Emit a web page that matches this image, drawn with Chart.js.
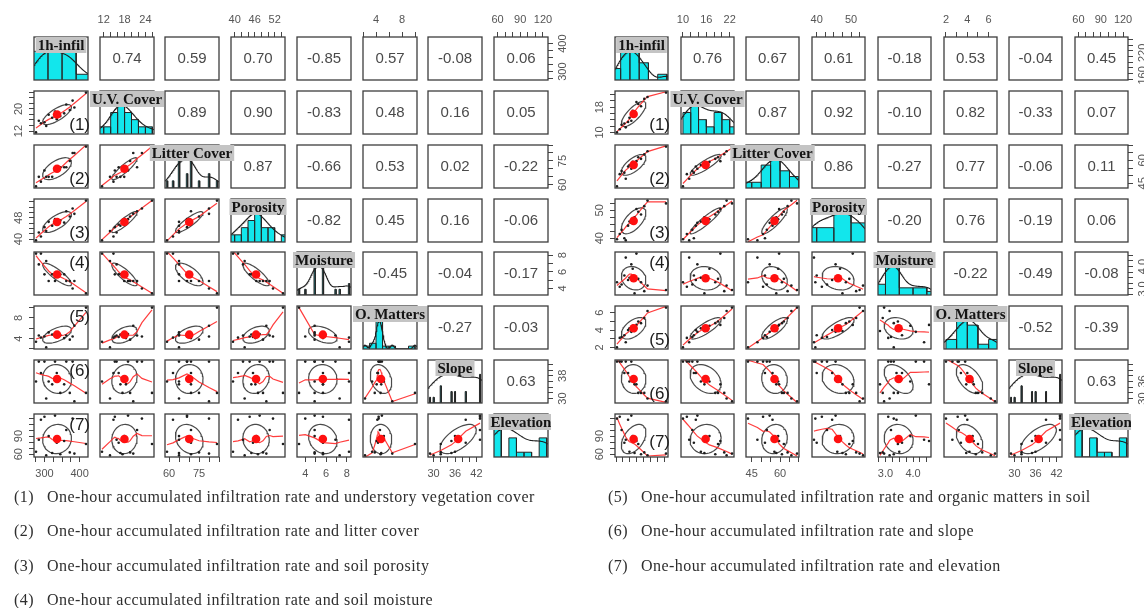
<!DOCTYPE html>
<html>
<head>
<meta charset="utf-8">
<script src="https://cdn.jsdelivr.net/npm/chart.js@4.4.1/dist/chart.umd.min.js"></script>
<style>
html,body{margin:0;padding:0;background:#fff}
body{position:relative;width:1144px;height:608px;overflow:hidden}
canvas{position:absolute}
.note{position:absolute;font-family:"Liberation Serif","Times New Roman",serif;font-size:16px;letter-spacing:0.45px;line-height:16px;color:#2e2e2e;white-space:nowrap;z-index:5}
</style>
</head>
<body>
<script>
const VAR_NAMES = ["1h-infil", "U.V. Cover", "Litter Cover", "Porosity", "Moisture", "O. Matters", "Slope", "Elevation"];

// ---- Site group A (left matrix): one value per plot ----
const infA   = [276, 290, 305, 284, 300, 322, 335, 312, 345, 330, 356, 372, 362, 385, 380, 418];
const uvA    = [11.5, 14.8, 13.8, 15.7, 15.2, 16.8, 16.3, 17.9, 17.4, 19.0, 18.4, 19.6, 21.6, 20.5, 23.0, 25.9];
const litA   = [59, 62, 65, 65, 69, 65, 71, 65, 71, 69, 71, 75, 71, 80, 80, 84];
const porA   = [39.5, 41.0, 43.0, 42.5, 44.5, 45.0, 45.5, 46.5, 47.0, 47.5, 46.2, 48.5, 50.5, 49.5, 51.5, 54.5];
const moiA   = [8.2, 8.2, 7.3, 6.9, 5.7, 5.7, 5.7, 4.9, 5.7, 4.9, 5.7, 4.9, 4.9, 4.9, 4.0, 3.4];
const omA    = [3.4, 4.2, 2.3, 4.6, 4.4, 4.8, 4.3, 5.2, 4.7, 4.9, 4.1, 3.8, 4.6, 6.5, 4.4, 10.0];
const slopeA = [36, 39, 30, 43, 43, 35, 39, 36, 32, 43, 35, 32, 43, 29, 43, 32];
const elevA  = [64, 117, 58, 84, 122, 62, 79, 90, 60, 124, 82, 63, 100, 61, 119, 77];

// ---- Site group B (right matrix) ----
const infB   = [152, 171, 158, 168, 162, 183, 176, 179, 190, 186, 204, 194, 198, 211, 218, 258];
const uvB    = [10.0, 11.6, 11.0, 12.8, 12.4, 13.7, 13.3, 14.6, 15.5, 16.8, 18.3, 19.6, 19.0, 20.6, 21.2, 22.6];
const litB   = [43, 48, 51, 52, 53, 54.5, 56, 57, 58, 59, 61, 59.5, 62, 64, 66, 69];
const porB   = [39.6, 39.2, 41.5, 40.0, 43.0, 45.5, 44.5, 46.0, 47.5, 46.8, 48.5, 50.5, 49.5, 51.5, 53.5, 52.5];
const moiB   = [3.3, 4.4, 3.1, 3.6, 3.2, 4.1, 3.4, 3.5, 2.8, 3.9, 3.3, 4.58, 3.45, 2.9, 3.15, 2.95];
const omB    = [2.0, 2.6, 3.1, 3.4, 3.2, 3.8, 4.0, 4.2, 3.9, 4.5, 4.8, 4.6, 5.0, 5.4, 6.2, 6.6];
const slopeB = [43, 43, 43, 39, 43, 43, 39, 36, 35, 36, 32, 35, 32, 32, 30, 29];
const elevB  = [119, 84, 122, 79, 100, 124, 117, 64, 62, 90, 60, 82, 77, 63, 58, 61];

// Pearson r printed in the upper triangle (row i, columns i+1..7)
const corrA = [
  [0.74, 0.59, 0.70, -0.85, 0.57, -0.08, 0.06],
  [0.89, 0.90, -0.83, 0.48, 0.16, 0.05],
  [0.87, -0.66, 0.53, 0.02, -0.22],
  [-0.82, 0.45, 0.16, -0.06],
  [-0.45, -0.04, -0.17],
  [-0.27, -0.03],
  [0.63]
];
const corrB = [
  [0.76, 0.67, 0.61, -0.18, 0.53, -0.04, 0.45],
  [0.87, 0.92, -0.10, 0.82, -0.33, 0.07],
  [0.86, -0.27, 0.77, -0.06, 0.11],
  [-0.20, 0.76, -0.19, 0.06],
  [-0.22, -0.49, -0.08],
  [-0.52, -0.39],
  [0.63]
];

// Axis tick spacing and labelled values on each outer side
const tickStepA   = [25, 2, 5, 2, 1, 2, 2, 10];
const tickTopA    = [null, [12, 18, 24], null, [40, 46, 52], null, [4, 8], null, [60, 90, 120]];
const tickBottomA = [[300, 400], null, [60, 75], null, [4, 6, 8], null, [30, 36, 42], null];
const tickLeftA   = [null, [12, 20], null, [40, 48], null, [4, 8], null, [60, 90]];
const tickRightA  = [[300, 400], null, [60, 75], null, [4, 6, 8], null, [30, 38], null];
const decimalsA   = [0, 0, 0, 0, 0, 0, 0, 0];

const tickStepB   = [15, 2, 5, 2.5, 0.25, 1, 2, 10];
const tickTopB    = [null, [10, 16, 22], null, [40, 50], null, [2, 4, 6], null, [60, 90, 120]];
const tickBottomB = [[160, 220], null, [45, 60], null, [3, 4], null, [30, 36, 42], null];
const tickLeftB   = [null, [10, 18], null, [40, 50], null, [2, 4, 6], null, [60, 90]];
const tickRightB  = [[160, 220], null, [45, 60], null, [3, 4], null, [30, 36], null];
const decimalsB   = [0, 0, 0, 0, 1, 0, 0, 0];

// Histogram bins [origin, width] for the diagonal panels
const binsA = [[270, 40], [10, 2], [58, 1], [38, 2], [3, 0.5], [2, 1], [28, 1], [55, 10]];
const binsB = [[140, 20], [10, 2], [40, 5], [35, 5], [2.5, 0.5], [2, 1], [28, 1], [55, 10]];

const NOTES_A = [
  ["(1)", "One-hour accumulated infiltration rate and understory vegetation cover"],
  ["(2)", "One-hour accumulated infiltration rate and litter cover"],
  ["(3)", "One-hour accumulated infiltration rate and soil porosity"],
  ["(4)", "One-hour accumulated infiltration rate and soil moisture"]
];
const NOTES_B = [
  ["(5)", "One-hour accumulated infiltration rate and organic matters in soil"],
  ["(6)", "One-hour accumulated infiltration rate and slope"],
  ["(7)", "One-hour accumulated infiltration rate and elevation"]
];

// ---------- layout ----------
const M = 40; // canvas margin around each panel box
const PANELS = [
  { x0: 34, y0: 37, dx: 65.7, dy: 53.86, w: 54, h: 43,
    vars: [infA, uvA, litA, porA, moiA, omA, slopeA, elevA], corr: corrA,
    step: tickStepA, top: tickTopA, bottom: tickBottomA, left: tickLeftA, right: tickRightA,
    dec: decimalsA, bins: binsA, tags: [null, 'b', 'b', 'b', 't', 't', 't', 't'] },
  { x0: 615, y0: 37, dx: 65.7, dy: 53.86, w: 53, h: 43,
    vars: [infB, uvB, litB, porB, moiB, omB, slopeB, elevB], corr: corrB,
    step: tickStepB, top: tickTopB, bottom: tickBottomB, left: tickLeftB, right: tickRightB,
    dec: decimalsB, bins: binsB, tags: [null, 'b', 'b', 'b', 't', 'b', 'b', 'm'] }
];

// ---------- statistics helpers ----------
const mean = a => a.reduce((s, v) => s + v, 0) / a.length;
const sdev = a => { const m = mean(a); return Math.sqrt(a.reduce((s, v) => s + (v - m) ** 2, 0) / (a.length - 1)); };
function quantile(a, p) {
  const s = [...a].sort((x, y) => x - y), h = (s.length - 1) * p, lo = Math.floor(h);
  return s[lo] + (h - lo) * ((lo + 1 < s.length ? s[lo + 1] : s[lo]) - s[lo]);
}
function extent(a) {
  const lo = Math.min(...a), hi = Math.max(...a), d = (hi - lo) * 0.04;
  return [lo - d, hi + d];
}
function tickValues(range, step) {
  const out = [];
  for (let k = Math.ceil(range[0] / step - 1e-9); k * step <= range[1] + 1e-9; k++) {
    out.push(Math.round(k * step * 1e6) / 1e6);
  }
  return out;
}

// locally weighted regression (lowess, f = 2/3, 3 robustness passes)
function lowess(xs, ys, f = 2 / 3, iter = 3) {
  const n = xs.length;
  const order = xs.map((_, i) => i).sort((a, b) => xs[a] - xs[b]);
  const x = order.map(i => xs[i]), y = order.map(i => ys[i]);
  const ns = Math.max(2, Math.min(n, Math.round(f * n)));
  let rw = new Array(n).fill(1);
  const fit = new Array(n).fill(0);
  for (let it = 0; it <= iter; it++) {
    for (let i = 0; i < n; i++) {
      const d = x.map(v => Math.abs(v - x[i])).sort((a, b) => a - b);
      const h = Math.max(d[ns - 1], 1e-9);
      let sw = 0, sx = 0, sy = 0, sxx = 0, sxy = 0;
      for (let j = 0; j < n; j++) {
        const r = Math.abs(x[j] - x[i]);
        let w = 0;
        if (r <= 0.999 * h) w = r > 0.001 * h ? (1 - (r / h) ** 3) ** 3 : 1;
        w *= rw[j];
        sw += w; sx += w * x[j]; sy += w * y[j]; sxx += w * x[j] * x[j]; sxy += w * x[j] * y[j];
      }
      if (sw <= 0) { fit[i] = y[i]; continue; }
      const mx = sx / sw, my = sy / sw, vx = sxx / sw - mx * mx;
      fit[i] = vx > 1e-10 ? my + (sxy / sw - mx * my) / vx * (x[i] - mx) : my;
    }
    if (it === iter) break;
    const res = y.map((v, i) => Math.abs(v - fit[i]));
    const cm = 6 * quantile(res, 0.5);
    rw = res.map(r => { if (cm <= 1e-12) return 1; const u = r / cm; return u < 1 ? (1 - u * u) ** 2 : 0; });
  }
  return x.map((v, i) => ({ x: v, y: fit[i] }));
}

// one-standard-deviation correlation ellipse
function ellipsePts(xm, ym, xs, ys, r) {
  const th = 1 / Math.sqrt(2), a = Math.sqrt(1 + r), b = Math.sqrt(1 - r), pts = [];
  for (let k = 0; k <= 51; k++) {
    const t = k * 2 * Math.PI / 51, c = Math.cos(t), s = Math.sin(t);
    pts.push({ x: xm + (c * a * th - s * b * th) * xs, y: ym + (c * a * th + s * b * th) * ys });
  }
  return pts;
}

// histogram outline, bars scaled so the tallest is 1
function histPath(vals, origin, width) {
  const uniq = [...new Set(vals)].sort((a, b) => a - b);
  const pts = [];
  if (uniq.length < 11) {
    const counts = uniq.map(u => vals.filter(v => v === u).length);
    const mx = Math.max(...counts);
    let md = Infinity;
    for (let k = 1; k < uniq.length; k++) md = Math.min(md, uniq[k] - uniq[k - 1]);
    const ib = md * (uniq.length - 1) / 41;
    uniq.forEach((u, k) => {
      const h = counts[k] / mx;
      pts.push({ x: u - ib, y: 0 }, { x: u - ib, y: h }, { x: u + ib, y: h }, { x: u + ib, y: 0 });
    });
  } else {
    const nb = Math.ceil((Math.max(...vals) - origin) / width - 1e-9);
    const counts = new Array(nb).fill(0);
    vals.forEach(v => { let k = Math.ceil((v - origin) / width - 1e-9) - 1; if (k < 0) k = 0; counts[k]++; });
    const mx = Math.max(...counts);
    counts.forEach((c, k) => {
      const x0 = origin + k * width, x1 = x0 + width, h = c / mx;
      pts.push({ x: x0, y: 0 }, { x: x0, y: h }, { x: x1, y: h }, { x: x1, y: 0 });
    });
  }
  return pts;
}

// Gaussian kernel density (bandwidth rule "nrd"), scaled to a peak of 1
function densityPts(vals) {
  const n = vals.length, iqr = quantile(vals, 0.75) - quantile(vals, 0.25);
  let h = 1.06 * Math.min(sdev(vals), iqr / 1.34) * Math.pow(n, -0.2);
  if (!(h > 0)) h = 1.06 * sdev(vals) * Math.pow(n, -0.2);
  const lo = Math.min(...vals) - 3 * h, hi = Math.max(...vals) + 3 * h, pts = [];
  for (let k = 0; k <= 160; k++) {
    const x = lo + (hi - lo) * k / 160;
    let s = 0;
    vals.forEach(v => { const u = (x - v) / h; s += Math.exp(-0.5 * u * u); });
    pts.push({ x, y: s });
  }
  const mx = Math.max(...pts.map(p => p.y));
  pts.forEach(p => { p.y /= mx; });
  return pts;
}

// ---------- drawing plugin: frame, texts, rotated y labels ----------
const cellPlugin = {
  id: 'cell',
  afterDatasetsDraw(chart, args, o) {
    const { ctx, chartArea: a } = chart;
    ctx.save();
    ctx.strokeStyle = '#3d3d3d';
    ctx.lineWidth = 1.3;
    ctx.strokeRect(a.left, a.top, a.right - a.left, a.bottom - a.top);
    ctx.restore();
  },
  afterDraw(chart, args, o) {
    const { ctx, chartArea: a } = chart;
    ctx.save();
    // rotated tick labels on vertical axes
    [['y', o.leftLabels, -15], ['y2', o.rightLabels, 15]].forEach(([id, labels, off]) => {
      if (!labels) return;
      const s = chart.scales[id];
      const x = off < 0 ? a.left + off : a.right + off;
      ctx.font = '11px "Liberation Sans", Arial, sans-serif';
      ctx.fillStyle = '#555';
      ctx.textAlign = 'center';
      ctx.textBaseline = 'middle';
      labels.forEach(v => {
        ctx.save();
        ctx.translate(x, s.getPixelForValue(v));
        ctx.rotate(-Math.PI / 2);
        ctx.fillText(v.toFixed(o.dec || 0), 0, 0);
        ctx.restore();
      });
    });
    if (o.corr != null) {
      ctx.font = '15px "Liberation Sans", Arial, sans-serif';
      ctx.fillStyle = '#4a4a4a';
      ctx.textAlign = 'center';
      ctx.textBaseline = 'middle';
      ctx.fillText(o.corr, (a.left + a.right) / 2, (a.top + a.bottom) / 2 + 0.5);
    }
    if (o.tag) {
      ctx.font = '17px "Liberation Sans", Arial, sans-serif';
      ctx.fillStyle = '#1c1c1c';
      ctx.textAlign = 'right';
      ctx.textBaseline = 'alphabetic';
      const y = o.tagPos === 't' ? a.top + 16 : o.tagPos === 'm' ? a.top + 33 : a.bottom - 4;
      ctx.fillText(o.tag, a.right + 2, y);
    }
    if (o.title) {
      ctx.font = 'bold 15px "Liberation Serif", "Times New Roman", serif';
      const tw = ctx.measureText(o.title).width;
      const cx = (a.left + a.right) / 2;
      if (o.clipRight) {
        ctx.beginPath();
        ctx.rect(0, 0, a.right + 3, chart.height);
        ctx.clip();
      }
      ctx.fillStyle = '#c4c4c4';
      ctx.fillRect(cx - tw / 2 - 2, a.top, tw + 4, 16);
      ctx.fillStyle = '#141414';
      ctx.textAlign = 'center';
      ctx.textBaseline = 'alphabetic';
      ctx.fillText(o.title, cx, a.top + 12.5);
    }
    ctx.restore();
  }
};

function scaleCfg(pos, range, step, labels, dec) {
  const horizontal = pos === 'top' || pos === 'bottom';
  return {
    type: 'linear', position: pos, min: range[0], max: range[1],
    afterBuildTicks: s => { s.ticks = tickValues(range, step).map(v => ({ value: v })); },
    afterFit: s => { if (horizontal) s.height = M; else s.width = M; },
    ticks: {
      display: horizontal && !!labels, autoSkip: false, maxRotation: 0, minRotation: 0,
      padding: 5, color: '#555', font: { family: '"Liberation Sans", Arial, sans-serif', size: 11 },
      callback: v => (labels && labels.some(l => Math.abs(l - v) < 1e-6)) ? Number(v).toFixed(dec) : ''
    },
    grid: { display: !!labels, drawOnChartArea: false, drawTicks: true, tickLength: 5, tickColor: '#454545', tickWidth: 1 },
    border: { display: false }
  };
}

function makeChart(left, top, w, h, z, datasets, scales, cell) {
  const cv = document.createElement('canvas');
  cv.width = w + 2 * M; cv.height = h + 2 * M;
  cv.style.left = (left - M) + 'px';
  cv.style.top = (top - M) + 'px';
  cv.style.width = cv.width + 'px';
  cv.style.height = cv.height + 'px';
  cv.style.zIndex = z;
  document.body.appendChild(cv);
  return new Chart(cv, {
    type: 'scatter',
    data: { datasets },
    options: {
      responsive: false, animation: false, devicePixelRatio: 1, events: [],
      layout: { padding: 0 },
      scales,
      plugins: { legend: { display: false }, tooltip: { enabled: false }, cell }
    },
    plugins: [cellPlugin]
  });
}

function buildPanel(P) {
  const ranges = P.vars.map(extent);
  for (let i = 0; i < 8; i++) {
    for (let j = 0; j < 8; j++) {
      const left = Math.round(P.x0 + j * P.dx), top = Math.round(P.y0 + i * P.dy);
      const diag = i === j;
      const xr = ranges[j], yr = diag ? [0, 1.5] : ranges[i];
      const ys = diag ? 0.5 : P.step[i];
      const showTop = i === 0 && j % 2 === 1, showBottom = i === 7 && j % 2 === 0;
      const showLeft = j === 0 && i % 2 === 1, showRight = j === 7 && i % 2 === 0;
      const scales = {
        x: scaleCfg('bottom', xr, P.step[j], showBottom ? P.bottom[j] : null, P.dec[j]),
        x2: scaleCfg('top', xr, P.step[j], showTop ? P.top[j] : null, P.dec[j]),
        y: scaleCfg('left', yr, ys, showLeft ? P.left[i] : null, P.dec[i]),
        y2: scaleCfg('right', yr, ys, showRight ? P.right[i] : null, P.dec[i])
      };
      const cell = {
        leftLabels: showLeft ? P.left[i] : null,
        rightLabels: showRight ? P.right[i] : null,
        dec: P.dec[i]
      };
      let datasets = [];
      if (diag) {
        const v = P.vars[i];
        datasets = [
          { data: densityPts(v), showLine: true, borderColor: '#202020', borderWidth: 1.1, pointRadius: 0, order: 0 },
          { data: histPath(v, P.bins[i][0], P.bins[i][1]), showLine: true, fill: 'origin',
            backgroundColor: '#12e6ec', borderColor: '#262626', borderWidth: 1, pointRadius: 0, order: 1 }
        ];
        cell.title = VAR_NAMES[i];
        cell.clipRight = j === 7;
      } else if (i > j) {
        const xv = P.vars[j], yv = P.vars[i];
        const r = P.corr[j][i - j - 1];
        const xm = mean(xv), ym = mean(yv);
        datasets = [
          { data: [{ x: xm, y: ym }], pointRadius: 4.3, pointBackgroundColor: '#ff1010', pointBorderWidth: 0, order: 0 },
          { data: xv.map((x, k) => ({ x, y: yv[k] })), pointRadius: 1.3, pointBackgroundColor: '#1e1e1e', pointBorderWidth: 0, order: 1 },
          { data: lowess(xv, yv), showLine: true, borderColor: 'rgba(255,40,40,0.9)', borderWidth: 1.2, pointRadius: 0, order: 2 },
          { data: ellipsePts(xm, ym, sdev(xv), sdev(yv), r), showLine: true, borderColor: '#4a4a4a', borderWidth: 1.2, pointRadius: 0, order: 3 }
        ];
        if (j === 0) { cell.tag = '(' + i + ')'; cell.tagPos = P.tags[i]; }
      } else {
        cell.corr = P.corr[i][j - i - 1].toFixed(2);
      }
      makeChart(left, top, P.w, P.h, diag ? 3 : 1, datasets, scales, cell);
    }
  }
}

PANELS.forEach(buildPanel);

// explanatory notes under the matrices
function addNotes(notes, xTag, xText) {
  const tops = [489, 523, 558, 592];
  notes.forEach(([tag, text], k) => {
    const a = document.createElement('div');
    a.className = 'note'; a.style.left = xTag + 'px'; a.style.top = tops[k] + 'px'; a.textContent = tag;
    const b = document.createElement('div');
    b.className = 'note'; b.style.left = xText + 'px'; b.style.top = tops[k] + 'px'; b.textContent = text;
    document.body.appendChild(a); document.body.appendChild(b);
  });
}
addNotes(NOTES_A, 14, 47);
addNotes(NOTES_B, 608, 641);
</script>
</body>
</html>
